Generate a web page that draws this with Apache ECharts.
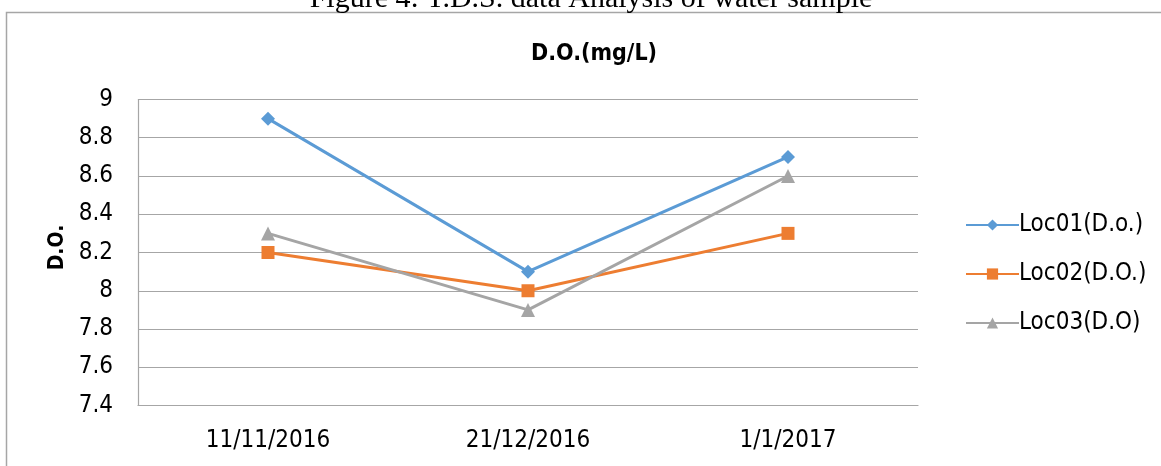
<!DOCTYPE html>
<html>
<head>
<meta charset="utf-8">
<script src="https://cdn.jsdelivr.net/npm/echarts@6/dist/echarts.min.js"></script>
<style>
  html, body { margin: 0; padding: 0; background: #fff; }
  #chart { width: 1161px; height: 466px; }
</style>
</head>
<body>
<div id="chart"></div>
<script>
// 数据
const dates = ['11/11/2016', '21/12/2016', '1/1/2017'];
const loc01 = [8.9, 8.1, 8.7];
const loc02 = [8.2, 8.0, 8.3];
const loc03 = [8.3, 7.9, 8.6];

const chart = echarts.init(document.getElementById('chart'));
const font = '"Liberation Sans Narrow", "DejaVu Sans Condensed", sans-serif';

const option = {
  animation: false,
  // 外框和图片标题
  graphic: [
    {
      type: 'rect',
      shape: { x: 6.5, y: 12.5, width: 1170, height: 470 },
      style: { fill: 'none', stroke: '#a6a6a6', lineWidth: 1.5 }
    },
    {
      type: 'text',
      x: 591, y: 14,
      style: {
        text: 'Figure 4: T.D.S. data Analysis of water sample',
        font: '30px "Liberation Serif", "DejaVu Serif", serif',
        fill: '#000',
        align: 'center',
        verticalAlign: 'bottom'
      }
    }
  ],
  title: {
    text: 'D.O.(mg/L)',
    left: 526,
    top: 38,
    textStyle: { fontFamily: font, fontWeight: 'bold', fontSize: 23, color: '#000' }
  },
  legend: {
    orient: 'vertical',
    left: 960,
    top: 208,
    itemWidth: 53,
    itemHeight: 14,
    itemGap: 25,
    textStyle: { fontFamily: font, fontSize: 24, color: '#000', padding: [0, 0, 0, -5] },
    data: ['Loc01(D.o.)', 'Loc02(D.O.)', 'Loc03(D.O)']
  },
  grid: { left: 138, top: 99.5, width: 780, height: 306, containLabel: false },
  xAxis: {
    type: 'category',
    data: dates,
    boundaryGap: true,
    axisLine: { lineStyle: { color: '#a6a6a6', width: 1.2 } },
    axisTick: { show: false },
    axisLabel: { fontFamily: font, fontSize: 24, color: '#000', margin: 23 }
  },
  yAxis: {
    type: 'value',
    min: 7.4,
    max: 9,
    interval: 0.2,
    name: 'D.O.',
    nameLocation: 'middle',
    nameGap: 70,
    nameTextStyle: { fontFamily: font, fontWeight: 'bold', fontSize: 21, color: '#000', padding: [0, 0, 0, 10] },
    axisLine: { show: true, lineStyle: { color: '#a6a6a6', width: 1.2 } },
    axisTick: { show: false },
    splitLine: { lineStyle: { color: '#a6a6a6', width: 1.2 } },
    axisLabel: {
      fontFamily: font, fontSize: 24, color: '#000', margin: 25,
      formatter: v => String(Math.round(v * 10) / 10)
    }
  },
  series: [
    {
      name: 'Loc01(D.o.)', type: 'line', data: loc01,
      symbol: 'diamond', symbolSize: 14,
      lineStyle: { color: '#5b9bd5', width: 3 },
      itemStyle: { color: '#5b9bd5' }
    },
    {
      name: 'Loc02(D.O.)', type: 'line', data: loc02,
      symbol: 'rect', symbolSize: 13,
      lineStyle: { color: '#ed7d31', width: 3 },
      itemStyle: { color: '#ed7d31' }
    },
    {
      name: 'Loc03(D.O)', type: 'line', data: loc03,
      symbol: 'triangle', symbolSize: 14,
      lineStyle: { color: '#a5a5a5', width: 3 },
      itemStyle: { color: '#a5a5a5' }
    }
  ]
};
chart.setOption(option);
</script>
</body>
</html>
